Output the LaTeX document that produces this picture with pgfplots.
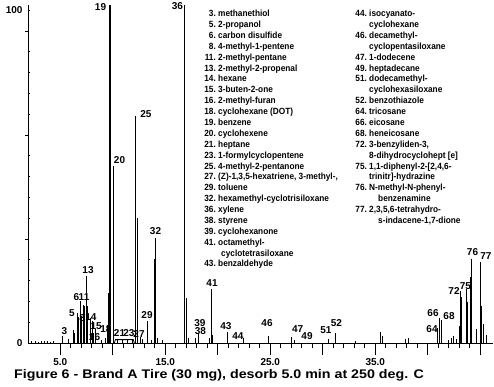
\documentclass[border=0pt]{standalone}
\usepackage{pgfplots}
\pgfplotsset{compat=1.18}
\usepackage{pgfplotstable}
\usepackage{fontspec}
\setmainfont{Liberation Sans}
\newfontfamily\legfont{Liberation Sans}[FakeStretch=0.92]
\newfontfamily\titlefont{Liberation Sans}[FakeStretch=1.14]

\pgfplotstableread{
t h
2.21 0.5
2.59 0.6
2.88 0.4
3.16 0.7
3.45 0.5
3.73 0.6
4.02 0.4
4.30 0.5
5.19 2.1
5.73 1.2
6.24 3.7
6.33 2.9
6.59 9.0
6.71 7.8
6.88 12.5
7.02 8.0
7.16 11.2
7.32 11.0
7.51 19.8
7.61 10.9
7.83 7.5
8.02 6.5
8.18 3.0
8.30 4.0
8.88 1.0
9.26 1.5
9.51 5.3
9.57 14.8
9.70 100
9.77 100
10.05 52.5
10.40 1.2
10.88 1.0
11.43 1.3
11.90 1.0
12.19 67.2
12.33 36.9
12.59 1.8
12.78 1.2
13.26 6.5
13.64 1.0
13.92 24.8
14.02 31.0
14.21 1.5
14.69 0.8
16.81 100
16.97 13.3
17.16 1.5
17.83 1.5
18.14 2.9
19.21 1.5
19.35 16.0
19.45 2.3
20.90 3.4
22.43 1.5
24.81 2.0
27.04 1.9
27.26 0.8
30.52 1.2
31.23 3.0
33.07 0.6
35.51 3.4
35.70 2.2
37.83 1.2
38.14 1.6
40.92 4.5
41.11 7.5
41.32 6.8
41.92 1.0
42.21 1.5
42.40 2.0
42.69 1.2
43.00 5.0
43.11 15.5
43.23 13.5
43.64 16.0
43.76 12.0
44.09 19.6
44.18 25.0
44.66 4.0
44.97 24.0
45.13 11.0
45.29 5.5
45.54 2.4
}\peaks

\pgfplotstableread{
t h
10.15 0
10.25 1.0
11.95 1.0
12.05 0
}\hump

\begin{document}
\begin{tikzpicture}
\path[use as bounding box] (-28pt,-43pt) rectangle (466pt,343pt);
\begin{axis}[
  name=main,
  scale only axis, width=465pt, height=338pt,
  xmin=1.924, xmax=46.21, ymin=0, ymax=100,
  axis x line=bottom, axis y line=left,
  axis line style={-, line width=0.8pt},
  clip=false,
  tick align=outside,
  major tick length=12pt, minor tick length=5pt,
  tick style={black, line width=0.8pt},
  xtick={5,10,...,45}, xticklabels={5.0,,15.0,,25.0,,35.0,,},
  minor x tick num=4,
  ytick={0,98.6}, yticklabels={0,100},
  ytick style={draw=none},
  ticklabel style={font=\bfseries\fontsize{10}{12}\selectfont},
  yticklabel style={xshift=10pt},
]
\addplot[ycomb, black, line width=0.85pt, mark=none] table[x=t,y=h] {\peaks};
\addplot[black, line width=0.8pt, mark=none] table[x=t,y=h] {\hump};
\tikzset{lab/.style={font=\bfseries\fontsize{10}{12}\selectfont, inner sep=0pt}}
\node[lab] at (5.40,3.55) {3};
\node[lab] at (6.11,8.88) {5};
\node[lab] at (6.54,13.46) {6};
\node[lab] at (7.26,13.46) {11};
\node[lab] at (7.07,7.25) {8};
\node[lab] at (7.64,21.6) {13};
\node[lab] at (7.92,7.60) {14};
\node[lab] at (8.42,4.9) {15};
\node[lab] at (8.26,1.70) {16};
\node[lab] at (9.35,4.0) {18};
\node[lab] at (8.83,99.3) {19};
\node[lab] at (10.64,54.1) {20};
\node[lab] at (10.64,2.96) {21};
\node[lab] at (11.54,2.96) {23};
\node[lab] at (12.50,2.66) {27};
\node[lab] at (13.16,67.6) {25};
\node[lab] at (13.26,8.28) {29};
\node[lab] at (14.07,33.1) {32};
\node[lab] at (16.16,99.6) {36};
\node[lab] at (18.35,3.40) {38};
\node[lab] at (18.30,6.0) {39};
\node[lab] at (19.45,17.75) {41};
\node[lab] at (20.78,4.88) {43};
\node[lab] at (21.92,2.07) {44};
\node[lab] at (24.69,5.77) {46};
\node[lab] at (27.60,4.0) {47};
\node[lab] at (28.50,1.95) {49};
\node[lab] at (30.30,3.85) {51};
\node[lab] at (31.30,5.77) {52};
\node[lab] at (40.40,4.0) {64};
\node[lab] at (40.50,8.73) {66};
\node[lab] at (42.02,7.84) {68};
\node[lab] at (42.50,15.4) {72};
\node[lab] at (43.59,16.9) {75};
\node[lab] at (44.26,26.8) {76};
\node[lab] at (45.54,25.6) {77};
\end{axis}
\begin{axis}[
  scale only axis, width=465pt, height=338pt,
  xmin=1.924, xmax=46.21, ymin=0, ymax=100,
  axis x line=none, axis y line=left,
  axis line style={-, line width=0.8pt},
  tick align=outside,
  major tick length=3pt, minor tick length=2pt,
  tick style={black, line width=0.8pt},
  minor tick style={xshift=2pt},
  ytick={30.77,61.54,92.31}, yticklabels={},
  minor ytick={6.154,12.308,18.462,24.615,36.923,43.077,49.231,55.385,67.692,73.846,80,86.154,98.462},
  xtick=\empty,
]
\end{axis}
\tikzset{leg/.style={font=\legfont\bfseries\fontsize{9}{10}\selectfont, inner sep=0pt, anchor=base west}}
\foreach \n/\t/\x [count=\i from 0] in {
 3./methanethiol/190, 5./2-propanol/190, 6./carbon disulfide/190,
 8./4-methyl-1-pentene/190, 11./2-methyl-pentane/190, 13./2-methyl-2-propenal/190,
 14./hexane/190, 15./3-buten-2-one/190, 16./2-methyl-furan/190,
 18./cyclohexane (DOT)/190, 19./benzene/190, 20./cyclohexene/190,
 21./heptane/190, 23./1-formylcyclopentene/190, 25./4-methyl-2-pentanone/190,
 27./{(Z)-1,3,5-hexatriene, 3-methyl-,}/190, 29./toluene/190,
 32./hexamethyl-cyclotrisiloxane/190, 36./xylene/190, 38./styrene/190,
 39./cyclohexanone/190, 41./octamethyl-/190, {}/cyclotetrasiloxane/193,
 43./benzaldehyde/190}
 { \node[leg] at ({\x pt},{326.3pt-\i*10.88pt}) {\llap{\n\ }\t}; }
\foreach \n/\t/\x [count=\i from 0] in {
 44./isocyanato-/341, {}/cyclohexane/341, 46./decamethyl-/341,
 {}/cyclopentasiloxane/341, 47./1-dodecene/341, 49./heptadecane/341,
 51./dodecamethyl-/341, {}/cyclohexasiloxane/341, 52./benzothiazole/341,
 64./tricosane/341, 66./eicosane/341, 68./heneicosane/341,
 72./{3-benzyliden-3,}/341, {}/{8-dihydrocyclohept [e]}/341,
 75./{1,1-diphenyl-2-[2,4,6-}/341, {}/{trinitr]-hydrazine}/341,
 76./N-methyl-N-phenyl-/341, {}/benzenamine/350,
 77./{2,3,5,6-tetrahydro-}/341, {}/{s-indacene-1,7-dione}/350}
 { \node[leg] at ({\x pt},{326.3pt-\i*10.88pt}) {\llap{\n\ }\t}; }
\node[anchor=base west, inner sep=0pt, font=\titlefont\bfseries\fontsize{12.5}{14}\selectfont] at (-14pt,-35.5pt) {Figure 6 - Brand A Tire (30 mg), desorb 5.0 min at 250 deg. C};
\end{tikzpicture}
\end{document}
